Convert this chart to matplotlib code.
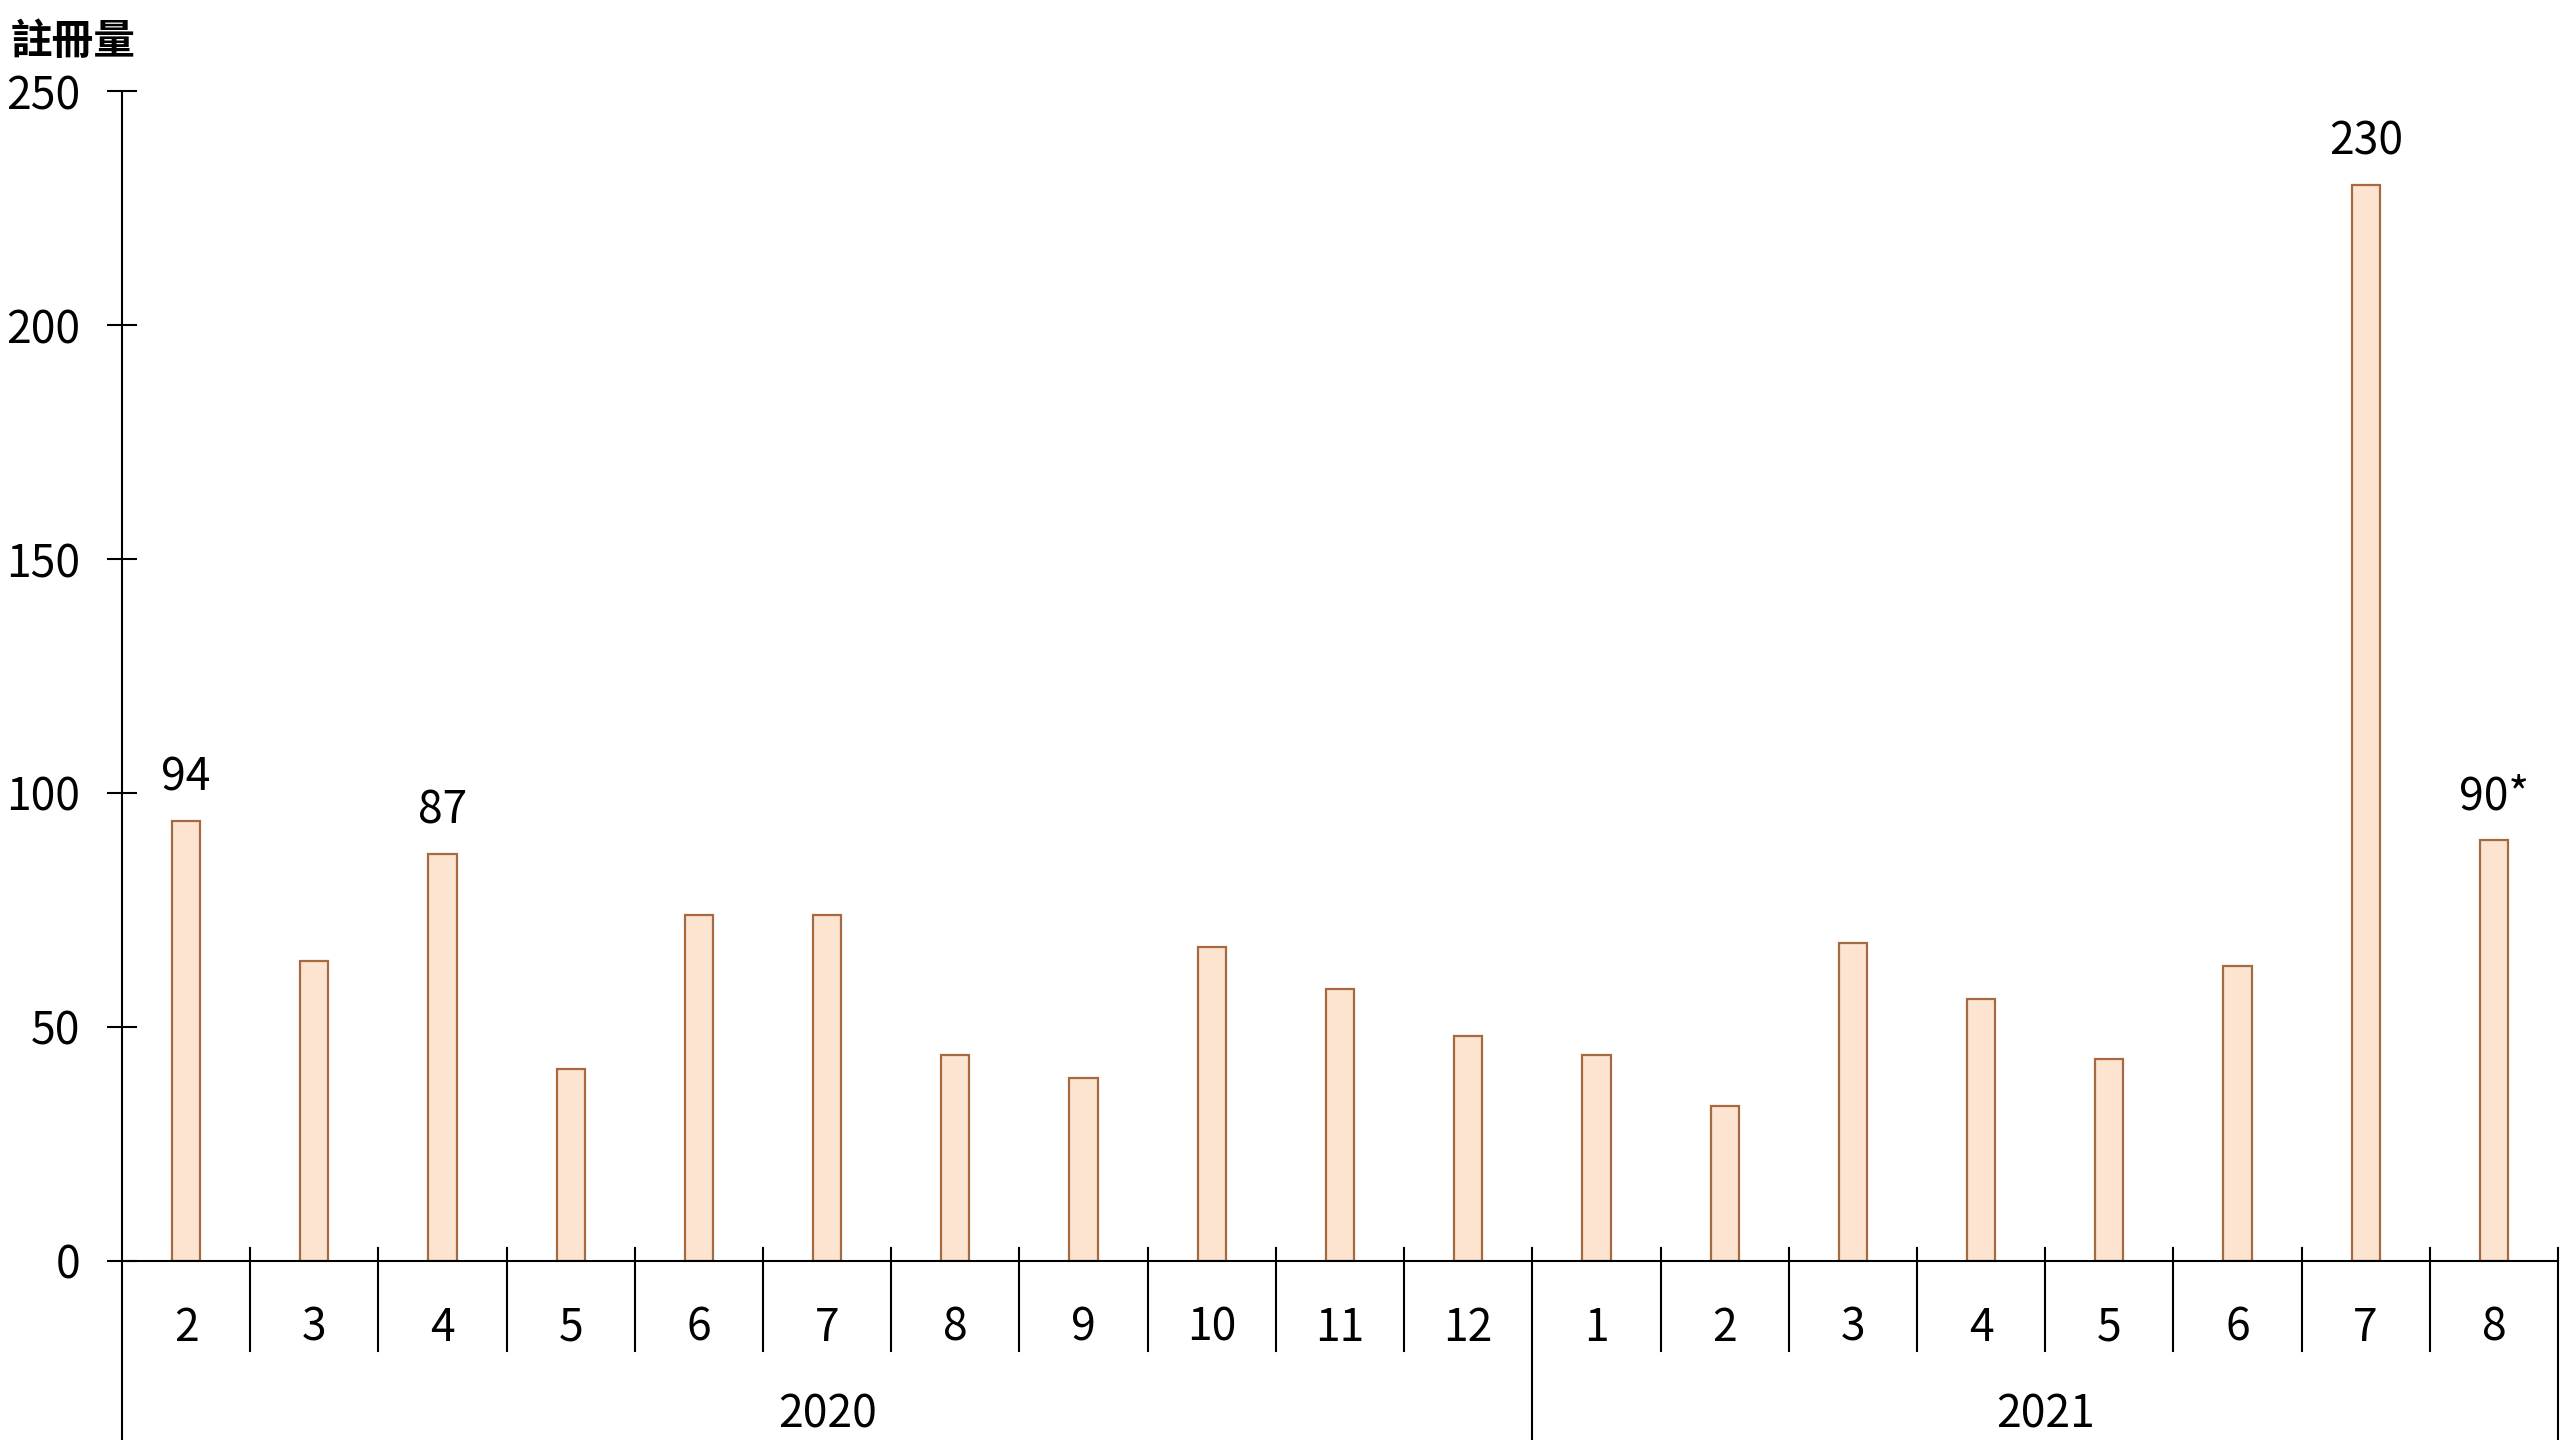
import matplotlib
matplotlib.use("Agg")
import matplotlib.pyplot as plt
import matplotlib.transforms as mtransforms

plt.rcParams['font.family'] = ['Noto Sans CJK TC', 'DejaVu Sans']

# ---- data ----
months = ["2", "3", "4", "5", "6", "7", "8", "9", "10", "11", "12",
          "1", "2", "3", "4", "5", "6", "7", "8"]
values = [94, 64, 87, 41, 74, 74, 44, 39, 67, 58, 48,
          44, 33, 68, 56, 43, 63, 230, 90]
value_labels = ["94", "", "87", "", "", "", "", "", "", "", "",
                "", "", "", "", "", "", "230", "90*"]
years = ["2020", "2021"]
year_counts = [11, 8]
y_ticks = [0, 50, 100, 150, 200, 250]
y_label = "註冊量"

FILL = "#FDE4D1"
EDGE = "#A56A40"
FS = 32

W, H = 2560, 1440
fig = plt.figure(figsize=(W / 100, H / 100), dpi=100)
left = 122 / W
right = 2558 / W
bottom = 1 - 1260.6 / H
top = 1 - 91.4 / H
ax = fig.add_axes([left, bottom, right - left, top - bottom])

x = list(range(len(values)))
ax.bar(x, values, width=0.22, color=FILL, edgecolor=EDGE, linewidth=1.6, zorder=2)

for xi, v, lab in zip(x, values, value_labels):
    if lab:
        ax.annotate(lab, (xi, v), xytext=(0, 22), textcoords="offset points",
                    ha="center", va="baseline", fontsize=FS)

ax.set_xlim(-0.5, len(values) - 0.5)
ax.set_ylim(0, 250)
ax.set_yticks(y_ticks)
ax.tick_params(axis="y", direction="inout", length=22, width=1.5, pad=19, labelsize=FS)
ax.set_xticks([])

for s in ["top", "right"]:
    ax.spines[s].set_visible(False)
ax.spines["left"].set_linewidth(1.5)
ax.spines["bottom"].set_linewidth(1.5)

trans = mtransforms.blended_transform_factory(ax.transData, ax.transAxes)
ax_h_px = (top - bottom) * H
up = 13 / ax_h_px
down = -90 / ax_h_px
deep = -0.3

# month separators / year separators
boundaries = [i + 0.5 for i in range(-1, len(values))]
year_edges = [-0.5]
acc = -0.5
for c in year_counts:
    acc += c
    year_edges.append(acc)
for b in boundaries:
    is_year = any(abs(b - e) < 1e-6 for e in year_edges)
    y0 = 0 if b == -0.5 else up
    y1 = deep if is_year else down
    ax.plot([b, b], [y0, y1], color="black", lw=1.5, transform=trans, clip_on=False, zorder=3)

# month labels
month_y = -67 / ax_h_px
for xi, m in zip(x, months):
    ax.text(xi, month_y, m, ha="center", va="center", fontsize=FS, transform=trans)

# year labels
year_y = -154 / ax_h_px
start = 0
for yl, c in zip(years, year_counts):
    cx = start + (c - 1) / 2
    ax.text(cx, year_y, yl, ha="center", va="center", fontsize=FS, transform=trans)
    start += c

fig.text(11 / W, 1 - 42 / H, y_label, ha="left", va="center", fontsize=30, fontweight="bold")

fig.savefig("out.png", dpi=100, facecolor="white")
